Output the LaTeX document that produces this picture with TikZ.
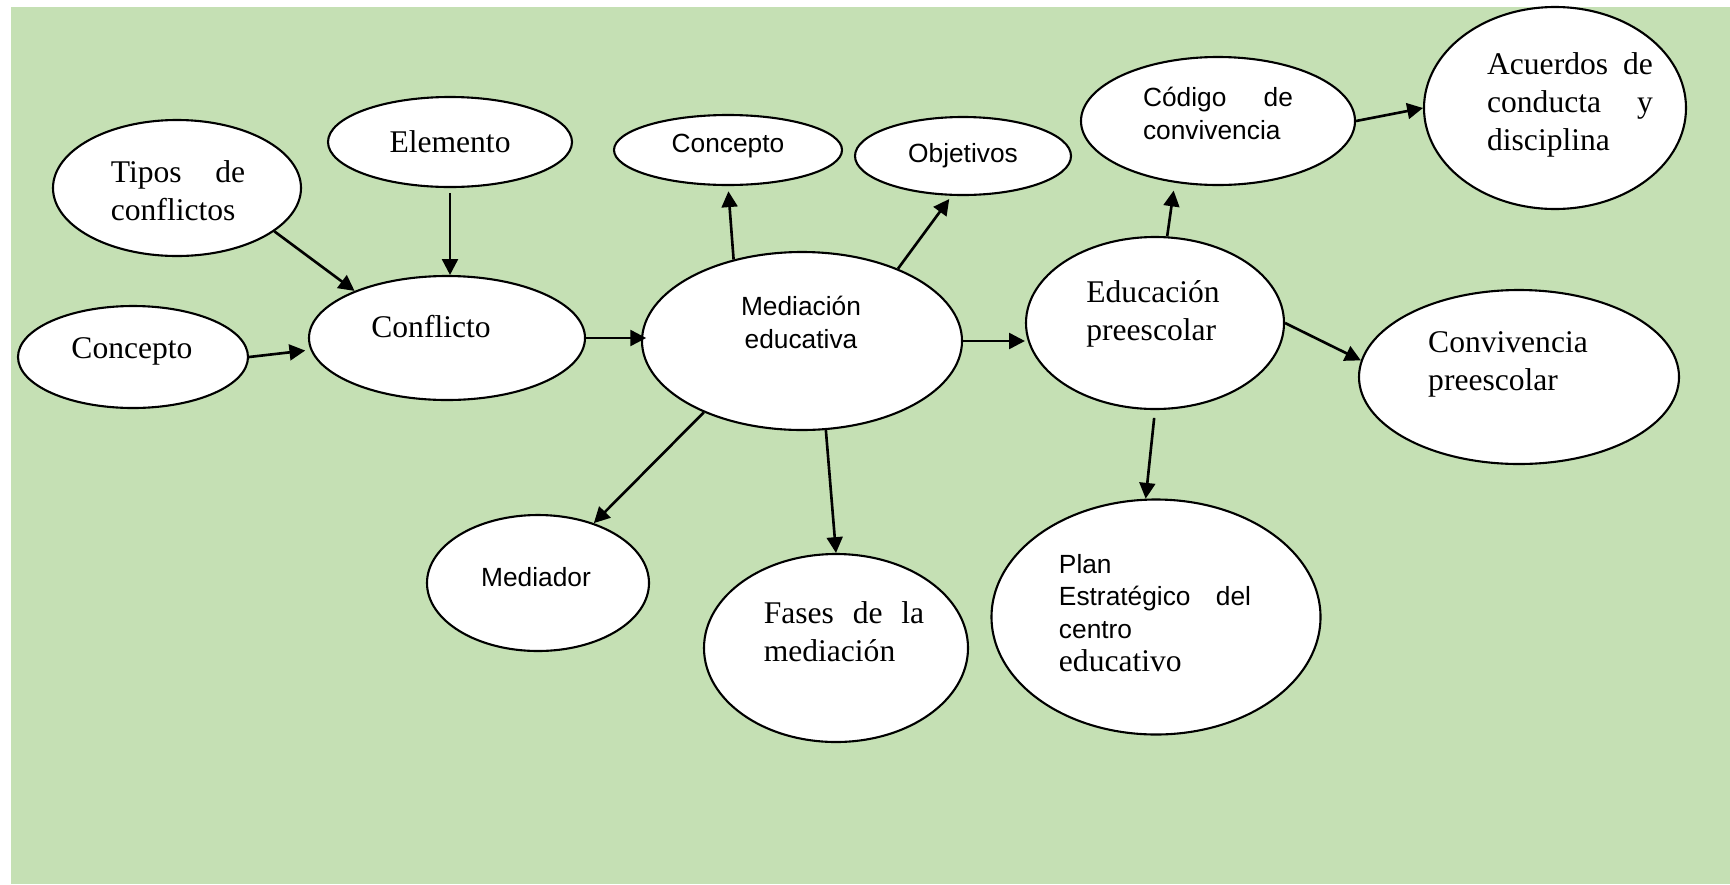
\documentclass[tikz,border=0pt]{standalone}
\usepackage{fontspec}
\setmainfont{Liberation Serif}
\setsansfont{Liberation Sans}
\usetikzlibrary{shapes.geometric,arrows.meta}
\definecolor{fondo}{RGB}{197,224,180}

\begin{document}
\begin{tikzpicture}[x=0.38pt,y=-0.38pt]
        \tikzset{idea/.style 2 args={ellipse,draw,fill=white,line width=0.8pt,inner sep=0pt,
                minimum width=#1*0.38pt,minimum height=#2*0.38pt},
            serif/.style={font=\fontsize{12}{14.5}\selectfont,inner sep=0pt,align=left},
            sans/.style={font=\fontsize{10}{12.5}\selectfont\sffamily,inner sep=0pt,align=left},
            link/.style={draw,line width=1pt,-{Triangle[length=6pt,width=6pt]}}}
        \useasboundingbox (0,0) rectangle (1730,884);
        \fill[fondo] (11,7) rectangle (1730,884);
        % conflicto
        \node[idea={248}{136}] (tipos) at (177,188) {};
        \node[serif,text width=51pt] (tipos-t) at (178,191) {Tipos\hfill de\\conflictos};
        \node[idea={244}{90}] (elemento) at (450,142) {};
        \node[serif] (elemento-t) at (450,142) {Elemento};
        \node[idea={230}{102}] (conc) at (133,357) {};
        \node[serif] (conc-t) at (132,351) {Concepto};
        \node[idea={276}{124}] (conflicto) at (447,338) {};
        \node[serif] (conflicto-t) at (431,327) {Conflicto};
        % mediacion
        \node[idea={320}{178}] (mediacion) at (802,341) {};
        \node[sans,align=center] (mediacion-t) at (801,322) {Mediación\\educativa};
        \node[idea={228}{70}] (concmed) at (728,150) {};
        \node[sans] (concmed-t) at (728,146) {Concepto};
        \node[idea={216}{78}] (objetivos) at (963,156) {};
        \node[sans] (objetivos-t) at (963,156) {Objetivos};
        \node[idea={222}{136}] (mediador) at (538,583) {};
        \node[sans] (mediador-t) at (536,577) {Mediador};
        \node[idea={264}{188}] (fases) at (836,648) {};
        \node[serif,text width=61pt] (fases-t) at (844,632) {Fases\hfill de\hfill la\\mediación};
        % educacion
        \node[idea={258}{172}] (educacion) at (1155,323) {};
        \node[serif] (educacion-t) at (1153,314) {Educación\\preescolar};
        \node[idea={274}{128}] (codigo) at (1218,121) {};
        \node[sans,text width=57pt] (codigo-t) at (1218,113) {Código\hfill de\\convivencia};
        \node[idea={262}{202}] (acuerdos) at (1555,108) {};
        \node[serif,text width=63pt] (acuerdos-t) at (1570,105) {Acuerdos\hfill de\\conducta\hfill y\\disciplina};
        \node[idea={320}{174}] (convivencia) at (1519,377) {};
        \node[serif] (convivencia-t) at (1508,364) {Convivencia\\preescolar};
        \node[idea={329}{235}] (plan) at (1156,617) {};
        \node[sans,text width=73pt] (plan-t) at (1155,613) {Plan\\Estratégico\hfill del\\centro\\{\rmfamily\fontsize{12}{14.5}\selectfont educativo}};
        % flechas
        \draw[link] (tipos.-24) -- (conflicto.153);
        \draw[link,shorten <=2pt] (elemento.south) -- (elemento.south |- conflicto.north);
        \draw[link,shorten >=2pt] (conc.east) -- (conflicto.185);
        \draw[link,shorten >=-2pt] (conflicto.east) -- (conflicto.east -| mediacion.west);
        \draw[link,shorten >=2pt] (mediacion.130) -- (concmed.south);
        \draw[link,shorten >=1.5pt] (mediacion.37) -- (objetivos.254);
        \draw[link] (mediacion.east) -- (mediacion.east -| educacion.west);
        \draw[link] (mediacion.216) -- (mediador.47);
        \draw[link] (mediacion.285) -- (fases.north);
        \draw[link,shorten >=3pt] (educacion.82) -- (codigo.235);
        \draw[link] (codigo.east) -- (acuerdos.west);
        \draw[link] (educacion.east) -- (convivencia.174);
        \draw[link,shorten <=3pt] (educacion.south) -- (plan.95);
\end{tikzpicture}
\end{document}
